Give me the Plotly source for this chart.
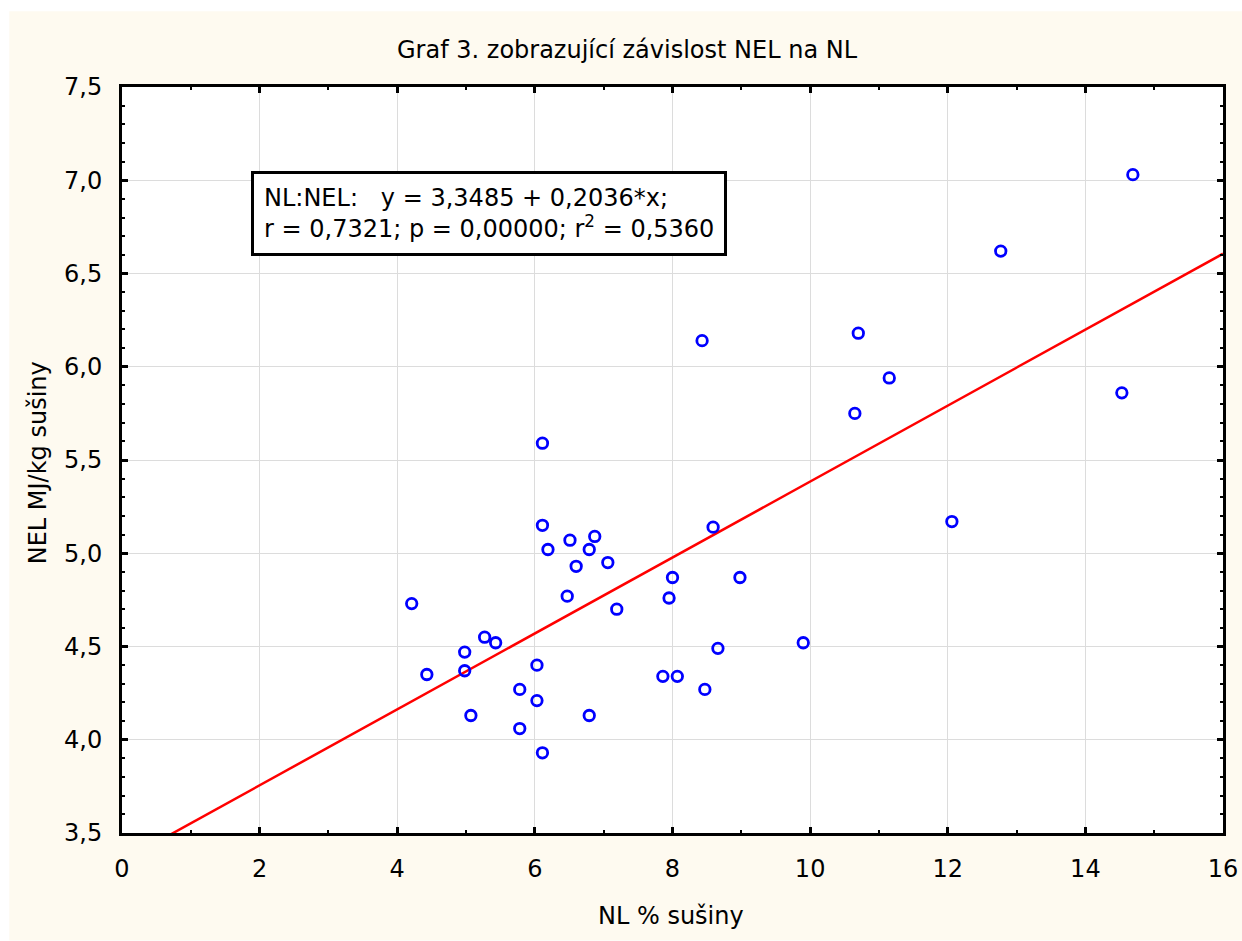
import plotly.graph_objects as go

# Data
nl = [4.21, 4.43, 4.98, 4.98, 5.07, 5.27, 5.43, 5.78, 5.78, 6.03, 6.03, 6.11,
      6.11, 6.11, 6.19, 6.47, 6.51, 6.60, 6.79, 6.87, 6.79, 7.06, 7.19, 7.86,
      7.95, 8.00, 8.07, 8.43, 8.47, 8.59, 8.66, 8.98, 9.90, 10.65, 10.70,
      11.15, 12.06, 12.77, 14.53, 14.69]
nel = [4.73, 4.35, 4.47, 4.37, 4.13, 4.55, 4.52, 4.27, 4.06, 4.40, 4.21, 3.93,
       5.59, 5.15, 5.02, 4.77, 5.07, 4.93, 5.02, 5.09, 4.13, 4.95, 4.70, 4.34,
       4.76, 4.87, 4.34, 6.14, 4.27, 5.14, 4.49, 4.87, 4.52, 5.75, 6.18,
       5.94, 5.17, 6.62, 5.86, 7.03]

intercept = 3.3485
slope = 0.2036
line_x = [0, 16]
line_y = [intercept + slope * v for v in line_x]

title_text = "Graf 3. zobrazující závislost NEL na NL"
x_title = "NL % sušiny"
y_title = "NEL MJ/kg sušiny"
stats_text = ("NL:NEL:   y = 3,3485 + 0,2036*x;<br>"
              "r = 0,7321; p = 0,00000; r<sup>2</sup> = 0,5360")

W, H = 1242, 941
L, R, T, B = 121.7, 1222.7, 86.7, 833.3

def px(x):
    return (x - L) / (R - L)

def py(y):
    return (B - y) / (B - T)

font = "DejaVu Sans, Liberation Sans, Arial, sans-serif"
FS = 24

fig = go.Figure()
fig.add_trace(go.Scatter(
    x=line_x, y=line_y, mode="lines",
    line=dict(color="#FF0000", width=2.5),
    showlegend=False, hoverinfo="skip"))
fig.add_trace(go.Scatter(
    x=nl, y=nel, mode="markers",
    marker=dict(symbol="circle-open", size=10.5, color="#0000FF",
                line=dict(width=2.8, color="#0000FF")),
    showlegend=False))

# cream background panel (outside plot area, starts slightly in from top-left)
fig.add_shape(type="rect", xref="paper", yref="paper", layer="below",
              x0=px(9), x1=px(1242), y0=py(941), y1=py(11),
              fillcolor="#FEFAF0", line=dict(width=0))
fig.add_shape(type="rect", xref="paper", yref="paper", layer="below",
              x0=0, x1=1, y0=0, y1=1,
              fillcolor="white", line=dict(width=0))

fig.add_annotation(
    xref="paper", yref="paper", x=px(251), y=py(171),
    xanchor="left", yanchor="top", align="left", showarrow=False,
    text=stats_text, font=dict(family=font, size=FS, color="black"),
    bordercolor="black", borderwidth=3, borderpad=10, bgcolor="white")

fig.add_annotation(
    xref="paper", yref="paper", x=px(627), y=py(50),
    xanchor="center", yanchor="middle", showarrow=False,
    text=title_text, font=dict(family=font, size=FS, color="black"))

fig.add_annotation(
    xref="paper", yref="paper", x=px(671), y=py(916),
    xanchor="center", yanchor="middle", showarrow=False,
    text=x_title, font=dict(family=font, size=FS, color="black"))

fig.add_annotation(
    xref="paper", yref="paper", x=px(38), y=py(463),
    xanchor="center", yanchor="middle", showarrow=False, textangle=-90,
    text=y_title, font=dict(family=font, size=FS, color="black"))

axis_common = dict(
    showline=True, linecolor="black", linewidth=3, mirror="allticks",
    ticks="inside", ticklen=6, tickwidth=2.5, tickcolor="black",
    showgrid=True, gridcolor="#DCDCDC", gridwidth=1, zeroline=False,
    tickfont=dict(family=font, size=FS, color="black"),
    ticklabelstandoff=12, automargin=False,
)

fig.update_xaxes(
    range=[0, 16], tickmode="array", tickvals=list(range(0, 17, 2)),
    ticktext=[str(v) for v in range(0, 17, 2)],
    minor=dict(ticks="inside", dtick=1, ticklen=3, tickwidth=2,
               tickcolor="black", showgrid=False),
    **axis_common)
fig.update_yaxes(
    range=[3.5, 7.5], dtick=0.5, tick0=3.5, tickformat=".1f",
    minor=dict(ticks="inside", dtick=0.1, ticklen=3, tickwidth=2,
               tickcolor="black", showgrid=False),
    **axis_common)

fig.update_layout(
    width=W, height=H, separators=", ",
    margin=dict(l=L, r=W - R, t=T, b=H - B, pad=0, autoexpand=False),
    paper_bgcolor="white", plot_bgcolor="white",
    font=dict(family=font, size=FS, color="black"),
)

fig.write_html("out.html")
